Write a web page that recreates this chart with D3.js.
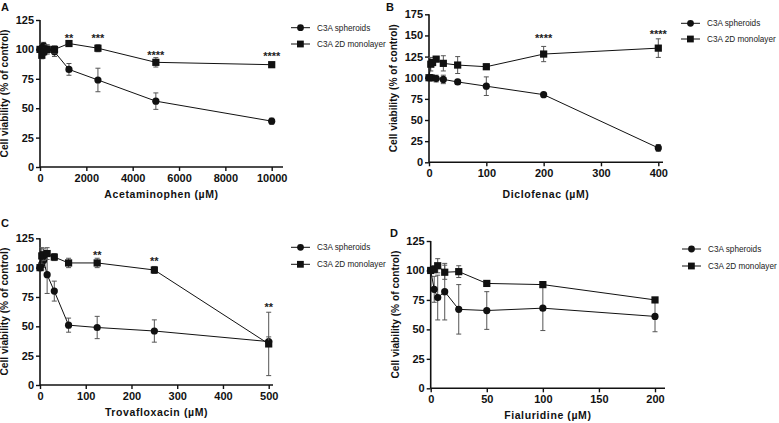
<!DOCTYPE html>
<html><head><meta charset="utf-8">
<script src="https://cdn.jsdelivr.net/npm/d3@7"></script>
<style>
html,body{margin:0;padding:0;background:#fff;}
svg{display:block;}
text{font-family:"Liberation Sans",Arial,sans-serif;}
</style></head>
<body>
<svg id="chart" width="779" height="423"></svg>
<script>
// ---- Data ----
const seriesNames = ["C3A spheroids", "C3A 2D monolayer"];

// Panel A: Acetaminophen
const aDoses = [0, 78, 156, 312, 625, 1250, 2500, 5000, 10000];
const aSpheroid = [100, 101, 103, 100, 98, 83, 74, 56, 39];
const aSpheroidErr = [2, 3, 3, 3, 4, 5, 10, 7, 2.5];
const aMono = [100, 95, 98, 100, 100, 105, 101, 89, 87];
const aMonoErr = [2, 3, 3, 4, 3, 2, 3, 4, 2];
const aStarX = [1250, 2500, 5000, 10000];
const aStarY = [112, 112, 98, 97];
const aStarLabels = ["**", "***", "****", "****"];
const aXTicks = [0, 2000, 4000, 6000, 8000, 10000];
const aYTicks = [0, 25, 50, 75, 100, 125];

// Panel B: Diclofenac
const bDoses = [0, 3.125, 6.25, 12.5, 25, 50, 100, 200, 400];
const bSpheroid = [100, 100, 100, 99, 98, 95, 90, 80, 17];
const bSpheroidErr = [2, 2, 3, 4, 5, 3, 11, 2, 4];
const bMono = [100, 116, 118, 122, 117, 115, 113, 128, 135];
const bMonoErr = [2, 8, 3, 3, 9, 10, 3, 9, 11];
const bStarX = [200, 400];
const bStarY = [150, 155];
const bStarLabels = ["****", "****"];
const bXTicks = [0, 100, 200, 300, 400];
const bYTicks = [0, 25, 50, 75, 100, 125, 150, 175];

// Panel C: Trovafloxacin
const cDoses = [0, 3.9, 7.8, 15.6, 31.25, 62.5, 125, 250, 500];
const cSpheroid = [100, 103, 106, 94, 80, 51, 49, 46, 37];
const cSpheroidErr = [2, 5, 6, 16, 8.5, 6, 9.5, 9.5, 4];
const cMono = [100, 110, 111, 112, 109, 104, 104, 98, 35];
const cMonoErr = [2, 7, 5, 5, 3, 4, 4, 3, 27];
const cStarX = [125, 250, 500];
const cStarY = [113, 108.5, 69];
const cStarLabels = ["**", "**", "**"];
const cXTicks = [0, 100, 200, 300, 400, 500];
const cYTicks = [0, 25, 50, 75, 100, 125];

// Panel D: Fialuridine
const dDoses = [0, 3.125, 6.25, 12.5, 25, 50, 100, 200];
const dSpheroid = [100, 84, 77, 82, 67, 66, 68, 61];
const dSpheroidErr = [2, 11, 19, 24, 21, 16, 19, 13];
const dMono = [100, 101, 104, 98.5, 99, 89, 88, 75];
const dMonoErr = [2, 3, 6, 6, 5, 2, 2, 2];
const dStarX = [];
const dStarY = [];
const dStarLabels = [];
const dXTicks = [0, 50, 100, 150, 200];
const dYTicks = [0, 25, 50, 75, 100, 125];

// ---- Layout ----
const panels = [
  {letter:"A", title:"Acetaminophen (\u00b5M)", doses:aDoses, sph:aSpheroid, sphE:aSpheroidErr, mono:aMono, monoE:aMonoErr,
   starX:aStarX, starY:aStarY, starL:aStarLabels, xTicks:aXTicks, yTicks:aYTicks,
   xDom:[0,10000], xRange:[40,271.7], xEnd:283, yDom:[0,125], yRange:[167,20],
   letterPos:[1,11], legX:291, legY:[27.7,44], xLabelY:198},
  {letter:"B", title:"Diclofenac (\u00b5M)", doses:bDoses, sph:bSpheroid, sphE:bSpheroidErr, mono:bMono, monoE:bMonoErr,
   starX:bStarX, starY:bStarY, starL:bStarLabels, xTicks:bXTicks, yTicks:bYTicks,
   xDom:[0,400], xRange:[429,658.3], xEnd:663, yDom:[0,175], yRange:[162.3,14.3],
   letterPos:[386,11], legX:681, legY:[23.3,39], xLabelY:198},
  {letter:"C", title:"Trovafloxacin (\u00b5M)", doses:cDoses, sph:cSpheroid, sphE:cSpheroidErr, mono:cMono, monoE:cMonoErr,
   starX:cStarX, starY:cStarY, starL:cStarLabels, xTicks:cXTicks, yTicks:cYTicks,
   xDom:[0,500], xRange:[40,268.7], xEnd:273, yDom:[0,125], yRange:[385,238.3],
   letterPos:[1,227], legX:291, legY:[247.3,264.3], xLabelY:416},
  {letter:"D", title:"Fialuridine (\u00b5M)", doses:dDoses, sph:dSpheroid, sphE:dSpheroidErr, mono:dMono, monoE:dMonoErr,
   starX:dStarX, starY:dStarY, starL:dStarLabels, xTicks:dXTicks, yTicks:dYTicks,
   xDom:[0,200], xRange:[430.7,655], xEnd:665, yDom:[0,125], yRange:[388.3,241],
   letterPos:[390,237], legX:682, legY:[249,266], xLabelY:419}
];

const svg = d3.select("#chart");
const ink = "#111";

panels.forEach(p => {
  const x = d3.scaleLinear().domain(p.xDom).range(p.xRange);
  const y = d3.scaleLinear().domain(p.yDom).range(p.yRange);
  const g = svg.append("g");

  // panel letter
  g.append("text").attr("x", p.letterPos[0]).attr("y", p.letterPos[1])
    .attr("font-size", 11).attr("font-weight", "bold").attr("fill", ink).text(p.letter);

  // axes
  const xAxis = d3.axisBottom(x).tickValues(p.xTicks).tickSize(4).tickPadding(3).tickFormat(d3.format("d"));
  const gx = g.append("g").attr("transform", `translate(0,${p.yRange[0]})`).call(xAxis);
  gx.select(".domain").remove();
  gx.append("line").attr("x1", p.xRange[0]).attr("x2", p.xEnd).attr("stroke", ink).attr("stroke-width", 1.6);
  const yAxis = d3.axisLeft(y).tickValues(p.yTicks).tickSize(4).tickPadding(2);
  const gy = g.append("g").attr("transform", `translate(${p.xRange[0]},0)`).call(yAxis);
  gy.select(".domain").remove();
  gy.append("line").attr("y1", p.yRange[0]).attr("y2", p.yRange[1]).attr("stroke", ink).attr("stroke-width", 1.6);
  [gx, gy].forEach(a => {
    a.selectAll(".tick line").attr("stroke", ink).attr("stroke-width", 1.4);
    a.selectAll(".tick text").attr("font-size", 11).attr("font-weight", "bold").attr("fill", ink)
      .attr("font-family", "'Liberation Sans', Arial, sans-serif");
  });

  // axis titles
  g.append("text").attr("x", (p.xRange[0] + p.xEnd) / 2).attr("y", p.xLabelY)
    .attr("text-anchor", "middle").attr("font-size", 10.5).attr("font-weight", "bold")
    .attr("letter-spacing", 0.6).attr("fill", ink).text(p.title);
  g.append("text").attr("transform", `translate(${p.xRange[0] - 32},${(p.yRange[0] + p.yRange[1]) / 2}) rotate(-90)`)
    .attr("text-anchor", "middle").attr("font-size", 10.2).attr("font-weight", "bold")
    .attr("fill", ink).text("Cell viability (% of control)");

  const series = [
    {vals: p.sph, errs: p.sphE, shape: "circle"},
    {vals: p.mono, errs: p.monoE, shape: "square"}
  ];
  const line = d3.line().x(d => x(d[0])).y(d => y(d[1]));

  series.forEach(s => {
    const pts = p.doses.map((d, i) => [d, s.vals[i], s.errs[i]]);
    // error bars
    const eb = g.append("g").attr("stroke", "#555").attr("stroke-width", 1);
    pts.forEach(pt => {
      const cx = x(pt[0]);
      eb.append("line").attr("x1", cx).attr("x2", cx).attr("y1", y(pt[1] - pt[2])).attr("y2", y(pt[1] + pt[2]));
      eb.append("line").attr("x1", cx - 2.5).attr("x2", cx + 2.5).attr("y1", y(pt[1] + pt[2])).attr("y2", y(pt[1] + pt[2]));
      eb.append("line").attr("x1", cx - 2.5).attr("x2", cx + 2.5).attr("y1", y(pt[1] - pt[2])).attr("y2", y(pt[1] - pt[2]));
    });
    g.append("path").datum(pts).attr("d", line).attr("fill", "none").attr("stroke", ink).attr("stroke-width", 1);
    if (s.shape === "circle") {
      g.selectAll(null).data(pts).enter().append("circle")
        .attr("cx", d => x(d[0])).attr("cy", d => y(d[1])).attr("r", 3.6).attr("fill", ink);
    } else {
      g.selectAll(null).data(pts).enter().append("rect")
        .attr("x", d => x(d[0]) - 3.6).attr("y", d => y(d[1]) - 3.6).attr("width", 7.2).attr("height", 7.2).attr("fill", ink);
    }
  });

  // significance stars
  p.starX.forEach((sx, i) => {
    g.append("text").attr("x", x(sx)).attr("y", y(p.starY[i]) + 7).attr("text-anchor", "middle")
      .attr("font-size", 11).attr("font-weight", "bold").attr("fill", "#222").text(p.starL[i]);
  });

  // legend
  seriesNames.forEach((name, i) => {
    const ly = p.legY[i];
    g.append("line").attr("x1", p.legX).attr("x2", p.legX + 19).attr("y1", ly).attr("y2", ly).attr("stroke", ink).attr("stroke-width", 1);
    if (i === 0) g.append("circle").attr("cx", p.legX + 9.5).attr("cy", ly).attr("r", 3.4).attr("fill", ink);
    else g.append("rect").attr("x", p.legX + 6).attr("y", ly - 3.4).attr("width", 6.8).attr("height", 6.8).attr("fill", ink);
    g.append("text").attr("x", p.legX + 26).attr("y", ly + 3).attr("font-size", 8.2).attr("fill", "#222").text(name);
  });
});
</script>
</body></html>
